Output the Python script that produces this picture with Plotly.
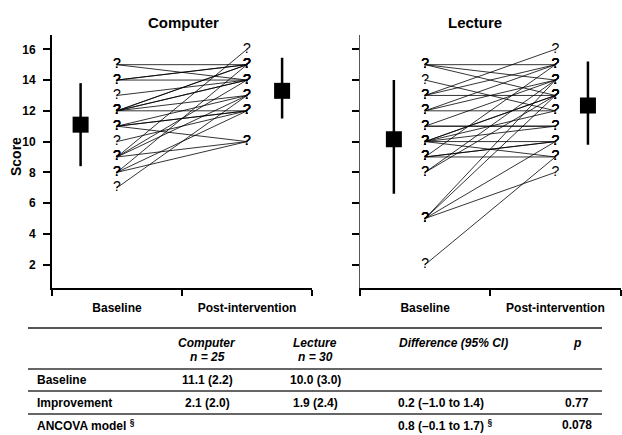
import plotly.graph_objects as go

# ---------------- DATA ----------------
categories = ["Baseline", "Post-intervention"]
y_ticks = [2, 4, 6, 8, 10, 12, 14, 16]

# Computer group (n = 25): paired scores per participant
computer_baseline = [15, 15, 14, 14, 14, 13, 12, 12, 12, 12, 12, 12, 11, 11, 11, 11, 10, 9, 9, 9, 9, 8, 8, 8, 7]
computer_post = [15, 14, 15, 14, 15, 14, 15, 15, 14, 14, 12, 13, 12, 12, 13, 10, 12, 16, 10, 13, 14, 10, 12, 15, 13]

# Lecture group (n = 30): paired scores per participant
lecture_baseline = [15, 15, 15, 14, 13, 13, 13, 12, 12, 12, 11, 11, 11, 10, 10, 10, 10, 10, 10, 9, 9, 9, 9, 8, 8, 5, 5, 5, 5, 2]
lecture_post = [15, 14, 13, 12, 16, 15, 13, 15, 14, 12, 14, 11, 11, 13, 13, 12, 10, 11, 9, 15, 10, 10, 9, 13, 14, 14, 13, 10, 8, 9]

# Group summaries (mean with error bar ends), baseline then post-intervention
computer_mean = [11.1, 13.3]
computer_upper = [13.8, 15.45]
computer_lower = [8.4, 11.5]
lecture_mean = [10.15, 12.35]
lecture_upper = [14.0, 15.2]
lecture_lower = [6.6, 9.8]

panel_titles = ["Computer", "Lecture"]

# Table
table_groups = ["Computer", "Lecture"]
table_n = [25, 30]
table_row_labels = ["Baseline", "Improvement", "ANCOVA model <sup>§</sup>"]
table_computer = ["11.1 (2.2)", "2.1 (2.0)", ""]
table_lecture = ["10.0 (3.0)", "1.9 (2.4)", ""]
table_difference = ["", "0.2 (\u20131.0 to 1.4)", "0.8 (\u20130.1 to 1.7) <sup>§</sup>"]
table_p = ["", "0.77", "0.078"]

# ---------------- LAYOUT CONSTANTS ----------------
W, H = 622, 435
FONT = "Liberation Sans, Arial, sans-serif"


def px(x):
    return x / W


def py(y):
    return 1 - y / H


Y_RANGE = [0.48, 16.93]
X_RANGE = [-0.5, 1.5]
MEAN_OFFSETS = {"x": [-0.28, 0.27], "x2": [-0.24, 0.25]}

fig = go.Figure()


def add_panel(base, post, mean, upper, lower, xa, ya):
    # connecting lines
    lx, ly = [], []
    for b, p in zip(base, post):
        lx += [0, 1, None]
        ly += [b, p, None]
    fig.add_trace(go.Scatter(x=lx, y=ly, mode="lines", line=dict(color="black", width=0.8),
                             xaxis=xa, yaxis=ya, hoverinfo="skip", showlegend=False))
    # '?' point labels
    fig.add_trace(go.Scatter(x=[0] * len(base) + [1] * len(post), y=list(base) + list(post),
                             mode="text", text=["?"] * (len(base) + len(post)),
                             textposition="middle center",
                             textfont=dict(family=FONT, size=14, color="black"),
                             xaxis=xa, yaxis=ya, hoverinfo="skip", showlegend=False))
    # means with error bars
    off = MEAN_OFFSETS[xa]
    mx = [i + o for i, o in zip(range(len(mean)), off)]
    fig.add_trace(go.Scatter(
        x=mx, y=mean, mode="markers",
        marker=dict(symbol="square", size=16, color="black"),
        error_y=dict(type="data", symmetric=False,
                     array=[u - m for u, m in zip(upper, mean)],
                     arrayminus=[m - l for m, l in zip(mean, lower)],
                     width=0, thickness=2.5, color="black"),
        xaxis=xa, yaxis=ya, hoverinfo="skip", showlegend=False))


add_panel(computer_baseline, computer_post, computer_mean, computer_upper, computer_lower, "x", "y")
add_panel(lecture_baseline, lecture_post, lecture_mean, lecture_upper, lecture_lower, "x2", "y2")

tickfont = dict(family=FONT, size=12, color="black", weight="bold")


def xaxis_cfg(domain, anchor):
    return dict(domain=domain, anchor=anchor, range=X_RANGE, tickvals=[0, 1], ticktext=categories,
                ticks="", showline=True, linewidth=2, linecolor="black", showgrid=False, zeroline=False,
                tickfont=tickfont, ticklabelstandoff=8,
                minor=dict(tickvals=[-0.5, 0.5, 1.5], ticks="outside", ticklen=6, tickwidth=2,
                           tickcolor="black", showgrid=False))


def yaxis_cfg(anchor, labels, lw, lc):
    return dict(domain=[py(288), py(35)], anchor=anchor, range=Y_RANGE, tickvals=y_ticks,
                ticks="outside", ticklen=7, tickwidth=2, tickcolor="black", showline=True,
                linewidth=lw, linecolor=lc, showgrid=False, zeroline=False,
                showticklabels=labels, tickfont=tickfont, ticklabelstandoff=5)


fig.update_layout(
    width=W, height=H, margin=dict(l=0, r=0, t=0, b=0),
    paper_bgcolor="white", plot_bgcolor="white",
    xaxis=xaxis_cfg([px(52), px(312)], "y"),
    yaxis=yaxis_cfg("x", True, 2, "black"),
    xaxis2=xaxis_cfg([px(360), px(620.5)], "y2"),
    yaxis2=yaxis_cfg("x2", False, 1.2, "#555"),
)

ann = []


def note(x, y, text, xanchor="center", size=12, angle=0):
    ann.append(dict(x=px(x), y=py(y), xref="paper", yref="paper", text=text, showarrow=False,
                    textangle=angle, font=dict(family=FONT, size=size, color="black"),
                    xanchor=xanchor, yanchor="middle"))


# panel titles
for t, xc in zip(panel_titles, [183, 475]):
    note(xc, 23, "<b>%s</b>" % t, size=15)
note(16, 157, "<b>Score</b>", size=14, angle=-90)

# table
col_x = [207, 315]
for g, n, xc in zip(table_groups, table_n, col_x):
    note(xc, 343, "<b><i>%s</i></b>" % g)
    note(xc, 357, "<b><i>n = %d</i></b>" % n)
note(453, 343, "<b><i>Difference (95% CI)</i></b>")
note(577, 343, "<b><i>p</i></b>")

row_y = [380, 403, 425]
for lbl, c, l, d, p, yy in zip(table_row_labels, table_computer, table_lecture, table_difference, table_p, row_y):
    note(35, yy, "<b>%s</b>" % lbl, xanchor="left")
    for txt, xc in zip([c, l], col_x):
        if txt:
            note(xc, yy, "<b>%s</b>" % txt)
    if d:
        note(396, yy, "<b>%s</b>" % d, xanchor="left")
    if p:
        note(577, yy, "<b>%s</b>" % p)

fig.update_layout(annotations=ann)

shapes = []
for yy, w, col in [(328, 2, "#555"), (369, 1.5, "#333"), (391, 1.5, "#333"), (414, 1.5, "#333")]:
    shapes.append(dict(type="line", xref="paper", yref="paper", x0=px(28), x1=px(602), y0=py(yy), y1=py(yy),
                       line=dict(color=col, width=w)))
fig.update_layout(shapes=shapes)

fig.write_html("out.html", config={"displayModeBar": False},
               post_script="document.body.style.margin='0';")
